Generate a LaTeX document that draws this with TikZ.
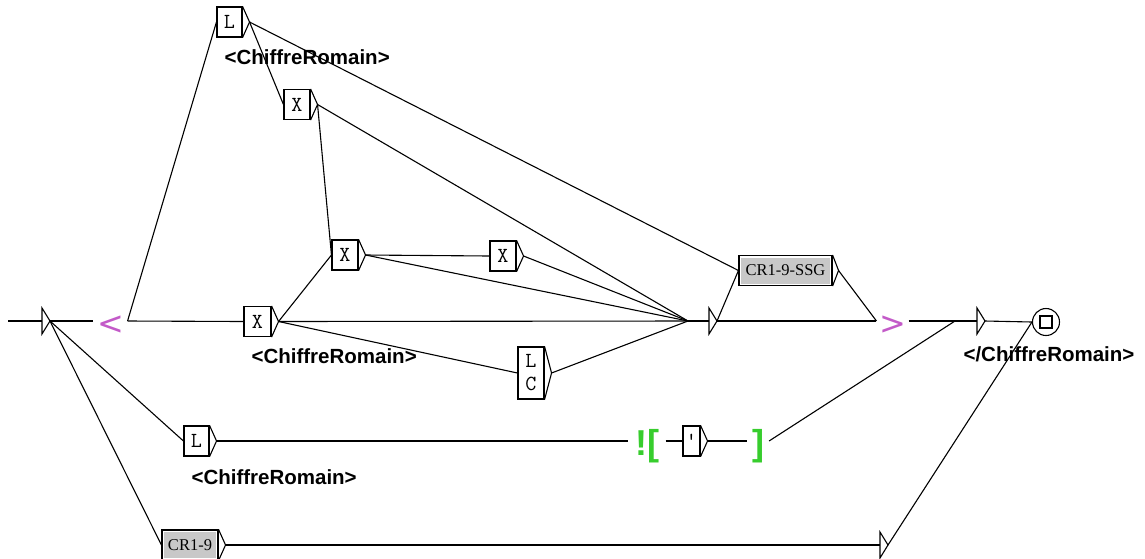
\documentclass[tikz,border=0pt]{standalone}
\usepackage{fontspec}
\setmainfont{Liberation Serif}
\newfontfamily\labelfont{Liberation Sans}
\newfontfamily\outfont{DejaVu Sans}

\definecolor{outmag}{RGB}{195,90,200}
\definecolor{ctxgreen}{RGB}{55,205,45}
\definecolor{subgray}{RGB}{200,200,200}

% output triangle on the right side of a box, with its tip as <name>-o
\newcommand\outtri[2][7pt]{%
  \draw (#2.north east) -- ([xshift=#1]#2.east) -- (#2.south east);
  \coordinate (#2-o) at ([xshift=#1]#2.east);}
% empty (epsilon) box: a bare triangle, tip as <name>-o
\newcommand\epstri[1]{%
  \draw ([yshift=-13pt]#1) -- ([xshift=8pt]#1) -- ([yshift=13pt]#1) -- cycle;
  \coordinate (#1-o) at ([xshift=8pt]#1);}

\begin{document}
\begin{tikzpicture}[x=1pt,y=-1pt,line width=1.1pt,
  tok/.style={draw, rectangle, fill=white, inner sep=0pt,
    minimum width=26pt, minimum height=30pt,
    font=\ttfamily\fontsize{21.5}{23}\selectfont},
  subbox/.style={draw, rectangle, fill=white, inner sep=0pt,
    minimum height=30pt, font=\fontsize{16.5}{18}\selectfont,
    path picture={\fill[subgray]
      ([shift={(2pt,-2pt)}]path picture bounding box.north west) rectangle
      ([shift={(-2pt,2pt)}]path picture bounding box.south east);}},
  lab/.style={anchor=base west, inner sep=0pt,
    font=\labelfont\bfseries\fontsize{20.5}{22}\selectfont},
  outmark/.style={text=outmag, inner sep=0pt, text height=27pt, text depth=0.2pt,
    font=\outfont\fontsize{32}{32}\selectfont},
  ctxmark/.style={text=ctxgreen, inner sep=0pt, text height=30pt, text depth=1.2pt,
    font=\labelfont\bfseries\fontsize{36}{36}\selectfont}]
\useasboundingbox (0,0) rectangle (1145,558);

% ---- boxes ----
\node[tok, minimum width=25pt] (Ltop) at (229.5,22) {L};
\node[tok] (X1) at (297,104.5) {X};
\node[tok] (X2) at (345,255) {X};
\node[tok] (X3) at (503,256) {X};
\node[tok, minimum width=27pt] (X0) at (257.5,321.5) {X};
\node[tok, minimum height=52pt, align=center] (LC) at (531,373) {L\\C};
\node[tok, minimum width=25pt] (Llow) at (196.5,441) {L};
\node[tok, minimum width=17pt] (apos) at (691.5,441) {'};
\node[subbox, minimum width=93pt] (SSG) at (785.5,270.5) {CR1-9-SSG};
\node[subbox, minimum width=56pt] (CR19) at (190,545) {CR1-9};
\foreach \b in {Ltop,X1,X2,X3,X0,LC,Llow,apos,CR19} {\outtri{\b}}
\outtri[6pt]{SSG}

% ---- outputs and context marks ----
\node[outmark, minimum width=33pt] (lt) at (110.5,321) {<};
\node[outmark, minimum width=31pt] (gt) at (892.5,321) {>};
\node[ctxmark, minimum width=36pt] (neg) at (647,441) {![};
\node[ctxmark, minimum width=21pt] (close) at (758,441) {]};

% ---- initial, empty and final states ----
\coordinate (start) at (8,321);
\coordinate (q0) at (42,321);
\epstri{q0}
\coordinate (e1in) at (688,321);
\coordinate (e1) at (709,321);
\epstri{e1}
\coordinate (e2in) at (955,321);
\coordinate (e2) at (977,321);
\epstri{e2}
\coordinate (e3) at (880,545);
\epstri{e3}
\node[draw, circle, minimum size=27pt, inner sep=0pt] (fin) at (1046,322) {};
\node[draw, rectangle, minimum size=12pt, inner sep=0pt] (finsq) at (fin) {};

% ---- labels ----
\node[lab] (lab1) at (224,64) {<ChiffreRomain>};
\node[lab] (lab2) at (251,363) {<ChiffreRomain>};
\node[lab] (lab3) at (191,484) {<ChiffreRomain>};
\node[lab] (lab4) at (963,361) {</ChiffreRomain>};

% ---- transitions ----
\draw (start) -- (q0);
\draw (q0-o) -- (lt.west);
\draw (q0-o) -- (Llow.west);
\draw (q0-o) -- (CR19.west);
\draw (lt.east) -- (Ltop.west);
\draw (lt.east) -- (X0.west);
\draw (Ltop-o) -- (X1.west);
\draw (Ltop-o) -- (SSG.west);
\draw (X1-o) -- (X2.west);
\draw (X1-o) -- (e1in);
\draw (X0-o) -- (X2.west);
\draw (X0-o) -- (e1in);
\draw (X0-o) -- (LC.west);
\draw (X2-o) -- (X3.west);
\draw (X2-o) -- (e1in);
\draw (X3-o) -- (e1in);
\draw (LC-o) -- (e1in);
\draw (e1in) -- (e1);
\draw (e1-o) -- (SSG.west);
\draw (e1-o) -- (gt.west);
\draw (SSG-o) -- (gt.west);
\draw (gt.east) -- (e2in) -- (e2);
\draw (Llow-o) -- (neg.west);
\draw (neg.east) -- (apos.west);
\draw (apos-o) -- (close.west);
\draw (close.east) -- (e2in);
\draw (e2-o) -- (fin.west);
\draw (CR19-o) -- (e3);
\draw (e3-o) -- (fin.west);
\end{tikzpicture}
\end{document}
